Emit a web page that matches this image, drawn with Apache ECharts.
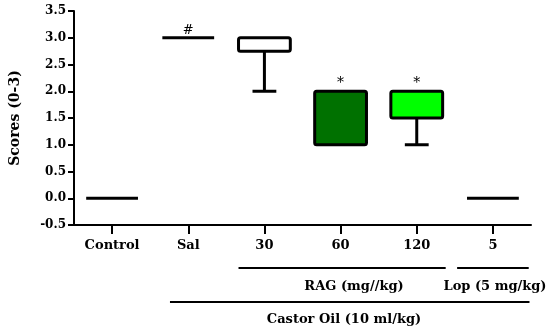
<!DOCTYPE html>
<html>
<head>
<meta charset="utf-8">
<script src="https://cdn.jsdelivr.net/npm/echarts@6/dist/echarts.min.js"></script>
<style>html,body{margin:0;padding:0;background:#fff}#c{width:550px;height:332px}</style>
</head>
<body>
<div id="c"></div>
<script>
const categories = ['Control', 'Sal', '30', '60', '120', '5'];
const minVals = [0, 3, 2, 1, 1, 0];
const q1Vals = [0, 3, 2.75, 1, 1.5, 0];
const q3Vals = [0, 3, 3, 2, 2, 0];
const maxVals = [0, 3, 3, 2, 2, 0];
const markers = ['', '#', '', '*', '*', ''];
const yTicks = [-0.5, 0, 0.5, 1, 1.5, 2, 2.5, 3, 3.5];
const groupLabels = ['RAG (mg//kg)', 'Lop (5 mg/kg)', 'Castor Oil (10 ml/kg)'];

const boxFills = ['#000', '#000', '#ffffff', '#007100', '#00ff00', '#000'];
const FONT = 'DejaVu Serif';

const data = categories.map((c, i) => [i, minVals[i], q1Vals[i], q3Vals[i], maxVals[i]]);

const chart = echarts.init(document.getElementById('c'));
chart.setOption({
  animation: false,
  grid: { left: 70, right: 19, top: 11, bottom: 107, containLabel: false },
  xAxis: {
    type: 'category',
    data: categories,
    axisLine: { show: true, onZero: false, lineStyle: { color: '#000', width: 2 } },
    axisTick: { show: true, alignWithLabel: true, interval: 0, length: 9, lineStyle: { color: '#000', width: 2 } },
    axisLabel: { color: '#000', fontFamily: FONT, fontWeight: 'bold', fontSize: 13, margin: 14 },
    splitLine: { show: false }
  },
  yAxis: {
    type: 'value',
    min: yTicks[0], max: yTicks[yTicks.length - 1], interval: 0.5,
    name: 'Scores (0-3)', nameLocation: 'middle', nameGap: 52,
    nameTextStyle: { color: '#000', fontFamily: FONT, fontWeight: 'bold', fontSize: 14 },
    axisLine: { show: true, lineStyle: { color: '#000', width: 2 } },
    axisTick: { show: true, length: 6, lineStyle: { color: '#000', width: 2 } },
    axisLabel: { color: '#000', fontFamily: FONT, fontWeight: 'bold', fontSize: 12, margin: 8,
      formatter: v => v.toFixed(1) },
    splitLine: { show: false }
  },
  series: [{
    type: 'custom',
    data: data,
    encode: { x: 0, y: [1, 2, 3, 4] },
    renderItem: function (params, api) {
      const i = api.value(0);
      const lo = api.value(1), q1 = api.value(2), q3 = api.value(3), hi = api.value(4);
      const bw = api.size([1, 0])[0] * 0.68;
      const pTop = api.coord([i, q3]);
      const pBot = api.coord([i, q1]);
      const cx = pTop[0];
      const children = [];
      const capW = bw * 0.46;
      if (lo < q1) {
        const pLo = api.coord([i, lo]);
        children.push({ type: 'line', shape: { x1: cx, y1: pBot[1], x2: cx, y2: pLo[1] }, style: { stroke: '#000', lineWidth: 3 } });
        children.push({ type: 'line', shape: { x1: cx - capW / 2, y1: pLo[1], x2: cx + capW / 2, y2: pLo[1] }, style: { stroke: '#000', lineWidth: 3 } });
      }
      if (hi > q3) {
        const pHi = api.coord([i, hi]);
        children.push({ type: 'line', shape: { x1: cx, y1: pTop[1], x2: cx, y2: pHi[1] }, style: { stroke: '#000', lineWidth: 3 } });
        children.push({ type: 'line', shape: { x1: cx - capW / 2, y1: pHi[1], x2: cx + capW / 2, y2: pHi[1] }, style: { stroke: '#000', lineWidth: 3 } });
      }
      if (q3 === q1) {
        children.push({ type: 'line', shape: { x1: cx - bw / 2, y1: pTop[1], x2: cx + bw / 2, y2: pTop[1] }, style: { stroke: '#000', lineWidth: 3 } });
      } else {
        children.push({ type: 'rect', shape: { x: cx - bw / 2, y: pTop[1], width: bw, height: pBot[1] - pTop[1], r: 2 },
          style: { fill: boxFills[i], stroke: '#000', lineWidth: 3, lineJoin: 'round' } });
      }
      const m = markers[i];
      if (m) {
        children.push({ type: 'text', style: { text: m, x: cx, y: pTop[1] - 1, align: 'center', verticalAlign: 'bottom',
          fill: '#000', font: (m === '*' ? '14px ' : '13px ') + '"' + FONT + '"' } });
      }
      return { type: 'group', children: children };
    }
  }]
});

// group annotation lines beneath the axis, positioned from the axis scale
function px(idx) { return chart.convertToPixel({ xAxisIndex: 0 }, idx); }
const bandW = px(1) - px(0);
const yBase = chart.convertToPixel({ yAxisIndex: 0 }, yTicks[0]);
const lineStyle = { stroke: '#000', lineWidth: 2 };
const txtStyle = (t, x, y) => ({ type: 'text', style: { text: t, x: x, y: y, align: 'center', verticalAlign: 'middle',
  fill: '#000', font: 'bold 13px "' + FONT + '"' } });
const rag = [px(2) - 0.34 * bandW, px(4) + 0.38 * bandW];
const lop = [px(5) - 0.47 * bandW, px(5) + 0.47 * bandW];
const cas = [px(1) - 0.24 * bandW, px(5) + 0.48 * bandW];
const y1 = yBase + 43, y2 = yBase + 77;
chart.setOption({
  graphic: [
    { type: 'line', shape: { x1: rag[0], y1: y1, x2: rag[1], y2: y1 }, style: lineStyle },
    txtStyle(groupLabels[0], 354, y1 + 19),
    { type: 'line', shape: { x1: lop[0], y1: y1, x2: lop[1], y2: y1 }, style: lineStyle },
    txtStyle(groupLabels[1], 495, y1 + 19),
    { type: 'line', shape: { x1: cas[0], y1: y2, x2: cas[1], y2: y2 }, style: lineStyle },
    txtStyle(groupLabels[2], 344, y2 + 18)
  ]
});
</script>
</body>
</html>
